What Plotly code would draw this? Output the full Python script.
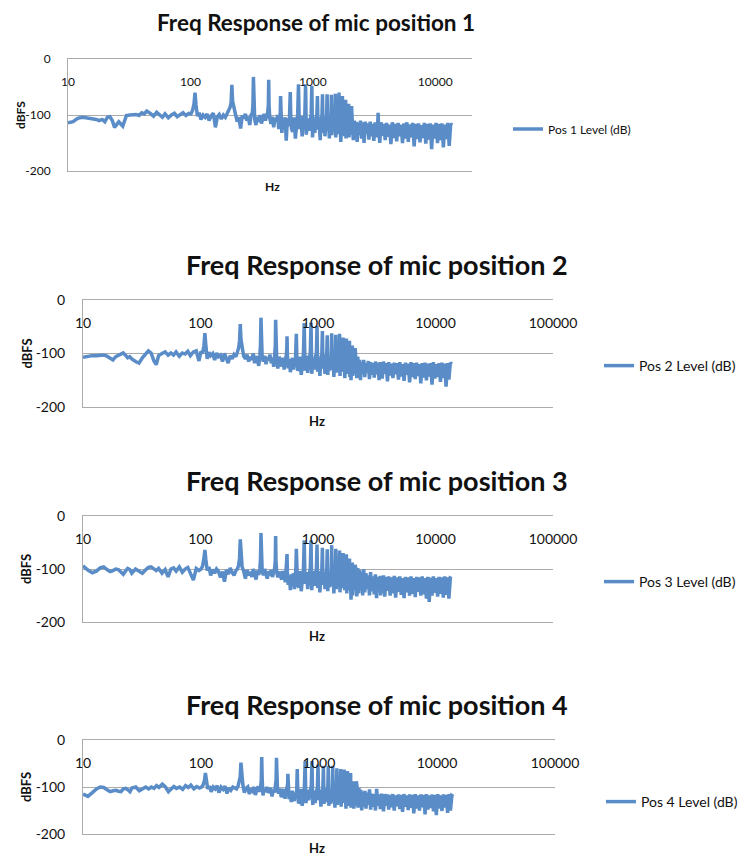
import plotly.graph_objects as go

# ---------------- data ----------------
# shared FFT frequency bins (Hz)
freq_hz = [
    # 10 - 100 Hz
    10, 11, 12, 13, 14, 15, 16, 17, 18, 19,
    20, 21, 22, 23, 24, 25, 26, 28, 30, 32,
    34, 36, 38, 40, 42, 44, 47, 50, 53, 56,
    59, 62, 66, 70, 74, 78, 82, 87, 92, 97,
    # 100 - 700 Hz
    101, 104, 107, 109, 111, 114, 118, 122, 127, 132,
    137, 142, 148, 154, 160, 166, 172, 179, 186, 193,
    200, 206, 211, 215, 218, 221, 226, 233, 241, 249,
    257, 265, 273, 281, 289, 297, 305, 313, 320, 324,
    327, 330, 335, 343, 352, 361, 370, 380, 390, 400,
    410, 420, 428, 433, 436, 439, 445, 455, 467, 479,
    491, 503, 515, 527, 537, 542, 545, 549, 558, 570,
    582, 594, 606, 618, 630, 641, 648, 654, 660, 670,
    # 700 - 2000 Hz (harmonics)
    685, 702, 720, 738, 752, 763,
    776, 796, 818, 840, 860, 872,
    885, 905, 927, 949, 969, 981,
    994, 1015, 1038, 1060, 1078, 1090,
    1103, 1125, 1148, 1170, 1187, 1199,
    1212, 1234, 1256, 1278, 1296, 1308,
    1321, 1343, 1365, 1387, 1405, 1417,
    1430, 1452, 1474, 1496, 1514, 1526,
    1539, 1561, 1583, 1605, 1623, 1635,
    1648, 1670, 1692, 1714, 1732, 1744,
    1757, 1779, 1801, 1823, 1841, 1853,
    1866, 1888, 1910, 1932, 1950, 1962,
    # 2000 - 14000 Hz
    1975, 2000, 2030, 2071, 2100, 2140, 2180, 2220, 2260, 2300,
    2350, 2400, 2450, 2500, 2560, 2620, 2680, 2740, 2800, 2870,
    2940, 3010, 3080, 3150, 3230, 3310, 3390, 3413, 3440, 3520,
    3610, 3700, 3800, 3900, 4000, 4110, 4220, 4340, 4460, 4580,
    4710, 4840, 4970, 5110, 5250, 5400, 5550, 5700, 5860, 6020,
    6190, 6360, 6540, 6720, 6910, 7100, 7300, 7500, 7710, 7920,
    8140, 8370, 8600, 8840, 9090, 9340, 9600, 9870, 10150, 10430,
    10720, 11020, 11330, 11650, 11970, 12300, 12650, 13000, 13370, 13750,
]

pos1_level_db = [
    -114, -112, -106, -104, -105, -106, -106, -108, -110, -108,
    -112, -104, -103, -110, -122, -116, -112, -120, -101, -100,
    -100, -99, -101, -96, -98, -93, -97, -102, -95, -99,
    -104, -98, -105, -100, -97, -103, -99, -96, -101, -97,
    -98, -92, -80, -60, -82, -102, -96, -108, -100, -104,
    -98, -110, -101, -97, -122, -103, -99, -107, -100, -104,
    -97, -92, -86, -78, -46, -75, -88, -98, -112, -104,
    -124, -101, -106, -98, -110, -103, -118, -100, -97, -82,
    -32, -78, -108, -118, -103, -112, -100, -115, -106, -98,
    -110, -103, -95, -82, -37, -84, -106, -116, -103, -122,
    -105, -112, -100, -125, -106, -96, -66, -100, -132, -108,
    -115, -104, -146, -112, -106, -120, -100, -59, -102, -125,
    -130, -104, -142, -110, -98, -45,
    -125, -102, -138, -108, -100, -45,
    -135, -106, -128, -112, -98, -48,
    -140, -108, -132, -104, -100, -66,
    -126, -110, -145, -106, -102, -63,
    -132, -104, -138, -110, -100, -63,
    -128, -112, -142, -106, -104, -64,
    -136, -108, -130, -112, -100, -62,
    -140, -110, -134, -106, -102, -60,
    -130, -112, -148, -108, -104, -66,
    -138, -110, -132, -114, -104, -73,
    -142, -112, -136, -110, -106, -80,
    -140, -110, -135, -84, -112, -145, -110, -138, -112, -148,
    -114, -136, -110, -142, -113, -150, -112, -134, -115, -144,
    -112, -138, -116, -146, -113, -140, -114, -96, -118, -150,
    -113, -137, -116, -145, -114, -139, -117, -152, -113, -141,
    -116, -147, -114, -138, -117, -150, -115, -142, -113, -148,
    -117, -140, -114, -156, -116, -143, -115, -149, -118, -141,
    -114, -151, -116, -144, -115, -161, -117, -142, -114, -150,
    -116, -145, -115, -158, -117, -143, -114, -155, -116, -118,
]

pos2_level_db = [
    -107, -105, -104, -104, -104, -103, -105, -108, -112, -106,
    -103, -100, -99, -103, -108, -106, -110, -115, -118, -108,
    -100, -95, -99, -113, -121, -104, -100, -97, -103, -99,
    -103, -97, -105, -99, -101, -96, -104, -97, -95, -114,
    -96, -100, -85, -62, -84, -110, -98, -104, -100, -112,
    -99, -106, -103, -115, -100, -108, -118, -104, -110, -102,
    -106, -97, -90, -76, -45, -74, -92, -105, -110, -102,
    -115, -106, -112, -100, -118, -105, -110, -123, -104, -84,
    -33, -80, -108, -115, -104, -120, -107, -113, -102, -118,
    -108, -125, -104, -86, -37, -88, -110, -128, -106, -118,
    -124, -108, -130, -112, -104, -92, -68, -102, -128, -110,
    -135, -113, -108, -130, -115, -122, -100, -63, -104, -132,
    -128, -106, -140, -110, -100, -43,
    -132, -104, -136, -112, -98, -42,
    -138, -108, -130, -106, -100, -48,
    -134, -110, -142, -108, -102, -58,
    -128, -112, -138, -106, -100, -66,
    -140, -106, -132, -110, -104, -62,
    -130, -110, -144, -108, -102, -65,
    -136, -112, -134, -106, -104, -63,
    -142, -108, -130, -112, -100, -70,
    -134, -110, -146, -108, -104, -72,
    -138, -114, -132, -110, -106, -76,
    -144, -112, -150, -114, -108, -85,
    -142, -108, -138, -90, -110, -146, -106, -140, -112, -150,
    -116, -138, -112, -144, -118, -136, -114, -148, -116, -140,
    -118, -145, -115, -139, -117, -150, -116, -142, -119, -147,
    -115, -138, -118, -152, -116, -141, -119, -146, -117, -139,
    -118, -149, -116, -143, -120, -151, -117, -140, -119, -154,
    -116, -144, -118, -148, -117, -142, -120, -156, -118, -145,
    -117, -150, -119, -143, -118, -158, -116, -147, -120, -144,
    -118, -153, -117, -146, -119, -162, -118, -149, -117, -120,
]

pos3_level_db = [
    -94, -102, -107, -104, -98, -96, -101, -105, -103, -100,
    -101, -106, -110, -104, -99, -101, -108, -100, -104, -108,
    -102, -97, -96, -100, -103, -99, -108, -101, -115, -100,
    -98, -104, -96, -106, -100, -97, -110, -121, -99, -103,
    -100, -95, -80, -64, -82, -103, -96, -112, -101, -108,
    -100, -104, -116, -105, -124, -102, -110, -98, -107, -112,
    -103, -100, -93, -80, -44, -78, -96, -104, -118, -102,
    -112, -105, -115, -100, -108, -120, -103, -111, -99, -82,
    -32, -80, -104, -112, -100, -110, -118, -105, -108, -102,
    -115, -106, -98, -84, -38, -86, -104, -116, -105, -112,
    -120, -104, -110, -125, -100, -95, -72, -105, -130, -112,
    -140, -110, -122, -108, -138, -112, -100, -62, -106, -130,
    -135, -104, -142, -110, -100, -46,
    -128, -106, -138, -112, -98, -46,
    -140, -104, -132, -108, -100, -54,
    -136, -110, -144, -106, -102, -60,
    -130, -108, -138, -112, -100, -63,
    -142, -106, -134, -110, -104, -55,
    -132, -112, -146, -108, -102, -62,
    -138, -110, -130, -106, -104, -65,
    -144, -112, -136, -108, -100, -70,
    -132, -106, -140, -112, -104, -72,
    -146, -110, -134, -108, -106, -80,
    -140, -114, -158, -112, -108, -88,
    -150, -104, -140, -92, -100, -152, -98, -146, -102, -140,
    -105, -150, -100, -144, -108, -138, -112, -150, -106, -142,
    -114, -148, -110, -155, -115, -140, -113, -150, -116, -145,
    -112, -152, -115, -141, -114, -150, -116, -146, -113, -154,
    -116, -143, -114, -149, -117, -155, -115, -144, -116, -150,
    -114, -147, -117, -153, -115, -143, -116, -150, -114, -148,
    -117, -156, -115, -162, -116, -150, -114, -145, -117, -152,
    -115, -147, -116, -154, -114, -149, -116, -156, -117, -118,
]

pos4_level_db = [
    -115, -120, -112, -104, -100, -101, -106, -110, -108, -107,
    -109, -110, -104, -103, -106, -110, -102, -100, -108, -103,
    -100, -104, -100, -103, -97, -101, -94, -100, -110, -104,
    -99, -103, -100, -105, -97, -101, -96, -104, -99, -102,
    -100, -96, -86, -70, -88, -104, -98, -110, -100, -104,
    -97, -112, -100, -105, -98, -114, -102, -107, -100, -103,
    -104, -98, -90, -78, -48, -76, -94, -112, -103, -100,
    -115, -104, -108, -100, -117, -106, -99, -110, -100, -86,
    -36, -82, -118, -104, -110, -100, -112, -108, -102, -120,
    -106, -112, -99, -84, -38, -86, -106, -114, -103, -122,
    -110, -104, -125, -108, -104, -94, -72, -104, -126, -110,
    -132, -108, -118, -130, -112, -124, -102, -62, -106, -135,
    -130, -104, -140, -110, -100, -45,
    -134, -106, -128, -108, -98, -45,
    -138, -108, -134, -112, -100, -52,
    -128, -106, -142, -110, -102, -55,
    -136, -110, -132, -106, -100, -55,
    -140, -108, -136, -112, -104, -55,
    -132, -110, -144, -106, -102, -60,
    -138, -112, -134, -108, -104, -62,
    -142, -106, -130, -110, -100, -63,
    -134, -112, -146, -108, -104, -66,
    -140, -110, -136, -114, -106, -70,
    -144, -112, -138, -110, -108, -88,
    -146, -100, -140, -88, -98, -144, -102, -138, -106, -150,
    -110, -142, -108, -146, -112, -138, -105, -148, -114, -142,
    -115, -150, -104, -140, -116, -147, -114, -143, -117, -152,
    -115, -140, -116, -148, -117, -143, -115, -150, -118, -141,
    -116, -147, -117, -153, -115, -142, -118, -149, -116, -144,
    -117, -156, -115, -146, -118, -150, -116, -143, -117, -158,
    -115, -148, -118, -145, -116, -152, -117, -160, -115, -146,
    -118, -151, -116, -144, -117, -155, -115, -150, -118, -120,
]

series_names = ["Pos 1 Level (dB)", "Pos 2 Level (dB)", "Pos 3 Level (dB)", "Pos 4 Level (dB)"]
chart_titles = ["Freq Response of mic position 1", "Freq Response of mic position 2",
                "Freq Response of mic position 3", "Freq Response of mic position 4"]
x_tick_values = [10, 100, 1000, 10000, 100000]
x_tick_labels = ["10", "100", "1000", "10000", "100000"]
y_tick_values = [-200, -100, 0]
y_tick_labels = ["-200", "-100", "0"]
x_title = "Hz"
y_title = "dBFS"

all_series = [pos1_level_db, pos2_level_db, pos3_level_db, pos4_level_db]
for s in all_series:
    if len(s) != len(freq_hz):
        raise ValueError(f"length mismatch {len(s)} vs {len(freq_hz)}")

# ---------------- layout (pixel geometry) ----------------
W, H = 743, 855
FONT = "Lato, 'Open Sans', sans-serif"
LINE = "#5A8DC8"
GRID = "#ABABAB"
TXT = "#111111"

panels = [
    dict(l=68, r=472, t=59, b=171, xmax=4.30, nt=4, fs=12, tfs=22.5, tx=316, ty=22,
         ytx=20, yfs=12, hzx=272, hzy=186, lgx=508, lgy=129, lfs=12),
    dict(l=83, r=553, t=300, b=407, xmax=5.0, nt=5, fs=14, tfs=27, tx=377, ty=265,
         ytx=26, yfs=13, hzx=317, hzy=421, lgx=599, lgy=366, lfs=14),
    dict(l=83, r=553, t=516, b=622, xmax=5.0, nt=5, fs=14, tfs=27, tx=377, ty=480,
         ytx=26, yfs=13, hzx=317, hzy=636, lgx=599, lgy=582, lfs=14),
    dict(l=83, r=555, t=740, b=834, xmax=5.0, nt=5, fs=14, tfs=27, tx=377, ty=704,
         ytx=26, yfs=13, hzx=317, hzy=848, lgx=601, lgy=802, lfs=14),
]

fig = go.Figure()
annotations = []
layout_upd = {}
for i, (p, vals) in enumerate(zip(panels, all_series)):
    k = "" if i == 0 else str(i + 1)
    fig.add_trace(go.Scatter(
        x=freq_hz, y=vals, mode="lines", name=series_names[i],
        line=dict(color=LINE, width=3.5), xaxis="x" + k, yaxis="y" + k,
        legend="legend" + k, showlegend=True, hoverinfo="skip"))
    layout_upd["xaxis" + k] = dict(
        type="log", domain=[p["l"] / W, p["r"] / W], range=[1, p["xmax"]],
        anchor="y" + k, side="top", ticklabelposition="inside",
        ticklabeloverflow="allow", automargin=False,
        tickvals=x_tick_values[:p["nt"]], ticktext=x_tick_labels[:p["nt"]],
        showgrid=False, zeroline=False, ticks="", showline=True, mirror=True,
        linecolor=GRID, linewidth=1, ticklabelstandoff=18,
        tickfont=dict(family=FONT, size=p["fs"], color=TXT))
    layout_upd["yaxis" + k] = dict(
        domain=[1 - p["b"] / H, 1 - p["t"] / H], range=[-200, 0], anchor="x" + k,
        tickvals=y_tick_values, ticktext=y_tick_labels, automargin=False,
        showgrid=True, gridcolor=GRID, gridwidth=1,
        zeroline=False, showline=True, linecolor=GRID, linewidth=1, ticks="",
        ticklabelstandoff=14, tickfont=dict(family=FONT, size=p["fs"], color=TXT))
    layout_upd["legend" + k] = dict(
        x=p["lgx"] / W, y=1 - p["lgy"] / H, xanchor="left", yanchor="middle",
        bgcolor="rgba(0,0,0,0)", borderwidth=0, itemwidth=30,
        font=dict(family=FONT, size=p["lfs"], color=TXT))
    annotations.append(dict(
        text="<b>" + chart_titles[i] + "</b>", x=p["tx"] / W, y=1 - p["ty"] / H,
        xref="paper", yref="paper", showarrow=False, xanchor="center", yanchor="middle",
        font=dict(family=FONT, size=p["tfs"], color=TXT)))
    annotations.append(dict(
        text="<b>" + y_title + "</b>", x=p["ytx"] / W, y=1 - ((p["t"] + p["b"]) / 2) / H,
        xref="paper", yref="paper", showarrow=False, textangle=-90,
        xanchor="center", yanchor="middle",
        font=dict(family=FONT, size=p["yfs"], color=TXT)))
    annotations.append(dict(
        text="<b>" + x_title + "</b>", x=p["hzx"] / W, y=1 - p["hzy"] / H,
        xref="paper", yref="paper", showarrow=False, xanchor="center", yanchor="middle",
        font=dict(family=FONT, size=p["yfs"], color=TXT)))

fig.update_layout(
    width=W, height=H, margin=dict(l=0, r=0, t=0, b=0, autoexpand=False),
    paper_bgcolor="white", plot_bgcolor="white",
    annotations=annotations, **layout_upd)

fig.write_html(
    "out.html",
    config={"displayModeBar": False},
    post_script="document.body.style.margin='0';document.body.style.overflow='hidden';")
